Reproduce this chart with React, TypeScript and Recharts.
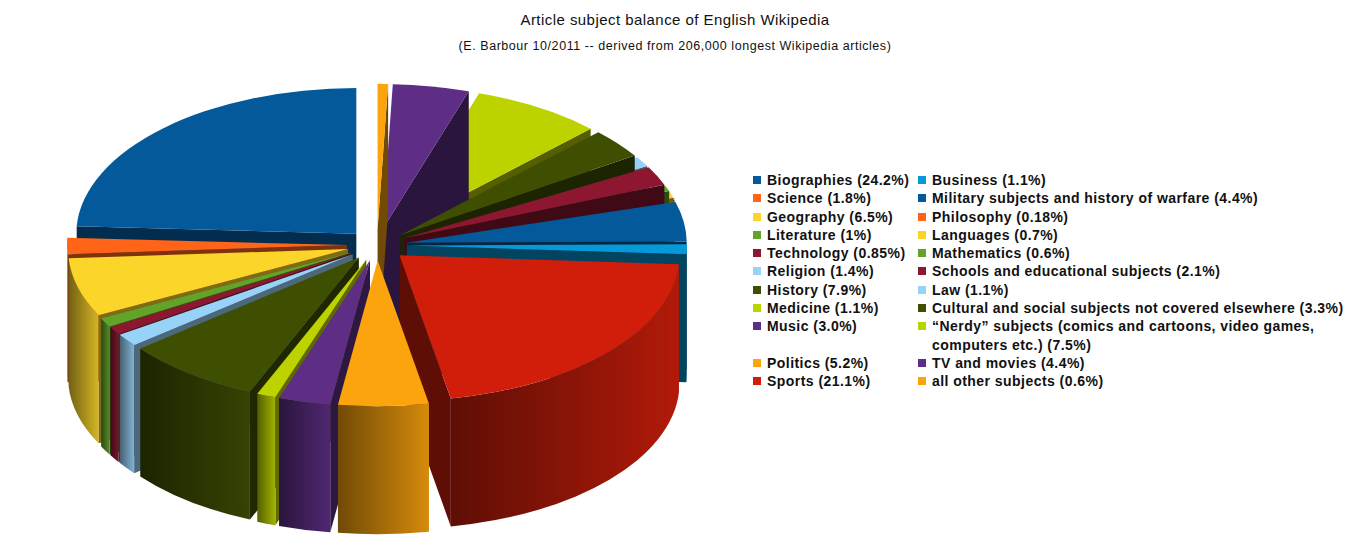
import React from 'react';
import { PieChart, Pie, Cell } from 'recharts';

// series order = legend read column by column; pie runs counter-clockwise from 12 o'clock
const subjects = [
  'Biographies', 'Science', 'Geography', 'Literature', 'Technology', 'Religion',
  'History', 'Medicine', 'Music', 'Politics', 'Sports',
  'Business', 'Military subjects and history of warfare', 'Philosophy', 'Languages',
  'Mathematics', 'Schools and educational subjects', 'Law',
  'Cultural and social subjects not covered elsewhere',
  '\u201CNerdy\u201D subjects (comics and cartoons, video games,\ncomputers etc.)',
  'TV and movies', 'all other subjects',
];
const shares = [24.2, 1.8, 6.5, 1, 0.85, 1.4, 7.9, 1.1, 3.0, 5.2, 21.1, 1.1, 4.4, 0.18, 0.7, 0.6, 2.1, 1.1, 3.3, 7.5, 4.4, 0.6];
const shareLabels = ['24.2%', '1.8%', '6.5%', '1%', '0.85%', '1.4%', '7.9%', '1.1%', '3.0%', '5.2%', '21.1%', '1.1%', '4.4%', '0.18%', '0.7%', '0.6%', '2.1%', '1.1%', '3.3%', '7.5%', '4.4%', '0.6%'];
const colors = [
  '#04599b', '#ff6418', '#fbd52a', '#62a42a', '#8d1731', '#97d2f8',
  '#3f4f02', '#bdd300', '#5e2e86', '#fca40d', '#d11e0b',
  '#0699d8', '#04599b', '#ff6418', '#fbd52a', '#62a42a', '#8d1731', '#97d2f8',
  '#3f4f02', '#bdd300', '#5e2e86', '#fca40d',
];

const data = subjects.map((name, i) => ({ name, value: shares[i] }));

const TILT = 0.52;
const DEPTH = 128;
const EXPLODE = 30;
const RAD = Math.PI / 180;
// depth bands (sin of mid angle), back to front, so nearer slices paint last
const bands = [1.01, 0.75, 0.5, 0.25, 0, -0.25, -0.5, -0.75, -1.01];

function shade(hex: string, f: number) {
  const n = parseInt(hex.slice(1), 16);
  const r = Math.min(255, Math.round(((n >> 16) & 255) * f));
  const g = Math.min(255, Math.round(((n >> 8) & 255) * f));
  const b = Math.min(255, Math.round((n & 255) * f));
  return `rgb(${r},${g},${b})`;
}

function Slice3D(props: any) {
  const { cx, cy, outerRadius, startAngle, endAngle, fill, lo, hi } = props;
  const a0 = Math.min(startAngle, endAngle);
  const a1 = Math.max(startAngle, endAngle);
  const mid = (a0 + a1) / 2;
  const s = Math.sin(mid * RAD);
  if (!(s <= hi && s > lo)) return <g />;
  const ox = cx + EXPLODE * Math.cos(mid * RAD);
  const oy = cy - EXPLODE * TILT * Math.sin(mid * RAD);
  const rx = outerRadius;
  const ry = outerRadius * TILT;
  const pt = (a: number, dz = 0) => `${ox + rx * Math.cos(a * RAD)},${oy - ry * Math.sin(a * RAD) + dz}`;
  const large = a1 - a0 > 180 ? 1 : 0;
  const id = `w${Math.round(a0 * 100)}-${Math.round(lo * 100)}`;
  const faces: any[] = [];

  if (Math.cos(a0 * RAD) > 0) {
    faces.push(
      <path key="s" d={`M${ox},${oy} L${pt(a0)} L${pt(a0, DEPTH)} L${ox},${oy + DEPTH} Z`} fill={shade(fill, 0.45)} />
    );
  }
  if (Math.cos(a1 * RAD) < 0) {
    faces.push(
      <path key="e" d={`M${ox},${oy} L${pt(a1)} L${pt(a1, DEPTH)} L${ox},${oy + DEPTH} Z`} fill={shade(fill, 0.5)} />
    );
  }
  const wl = Math.max(a0, 180);
  const wh = Math.min(a1, 360);
  if (wl < wh) {
    faces.push(
      <path
        key="o"
        d={`M${pt(wl)} A${rx},${ry} 0 0 0 ${pt(wh)} L${pt(wh, DEPTH)} A${rx},${ry} 0 0 1 ${pt(wl, DEPTH)} Z`}
        fill={`url(#${id})`}
      />
    );
  }
  faces.push(
    <path key="t" d={`M${ox},${oy} L${pt(a0)} A${rx},${ry} 0 ${large} 0 ${pt(a1)} Z`} fill={fill} />
  );

  return (
    <g>
      <defs>
        <linearGradient id={id} x1="0" y1="0" x2="1" y2="0">
          <stop offset="0%" stopColor={shade(fill, 0.45)} />
          <stop offset="100%" stopColor={shade(fill, 0.85)} />
        </linearGradient>
      </defs>
      {faces}
    </g>
  );
}

const legendRows = subjects.slice(0, 11).map((_, i) => [i, i + 11]);

export default function App() {
  return (
    <div style={{ position: 'absolute', left: 0, top: 0, width: 1362, height: 546, background: '#fff', fontFamily: '"Liberation Sans", Arial, sans-serif' }}>
      <div style={{ position: 'absolute', left: 0, top: 11, width: 1350, textAlign: 'center', fontSize: 15, letterSpacing: 0.45, color: '#111' }}>
        Article subject balance of English Wikipedia
      </div>
      <div style={{ position: 'absolute', left: 0, top: 39, width: 1350, textAlign: 'center', fontSize: 12.5, letterSpacing: 0.55, color: '#111' }}>
        (E. Barbour 10/2011 -- derived from 206,000 longest Wikipedia articles)
      </div>

      <div style={{ position: 'absolute', left: 0, top: 0 }}>
        <PieChart width={720} height={546}>
          {bands.slice(0, -1).map((hi, b) => (
            <Pie
              key={b}
              data={data}
              dataKey="value"
              nameKey="name"
              cx={372}
              cy={240}
              outerRadius={280}
              startAngle={90}
              endAngle={450}
              stroke="none"
              isAnimationActive={false}
              shape={(p: any) => <Slice3D {...p} lo={bands[b + 1]} hi={hi} />}
              activeShape={(p: any) => <Slice3D {...p} lo={bands[b + 1]} hi={hi} />}
            >
              {data.map((d, i) => (
                <Cell key={d.name} fill={colors[i]} />
              ))}
            </Pie>
          ))}
        </PieChart>
      </div>

      <div
        style={{
          position: 'absolute', left: 753, top: 171,
          display: 'grid', gridTemplateColumns: '165px auto',
          fontSize: 14, letterSpacing: 0.45, fontWeight: 'bold', lineHeight: '18.3px', color: '#111',
        }}
      >
        {legendRows.flat().map((i) => (
          <div key={i} style={{ display: 'flex', alignItems: 'flex-start' }}>
            <span style={{ width: 8, height: 8, marginTop: 5, marginRight: 6, background: colors[i], flex: 'none' }} />
            <span style={{ whiteSpace: 'pre' }}>{`${subjects[i]} (${shareLabels[i]})`}</span>
          </div>
        ))}
      </div>
    </div>
  );
}
